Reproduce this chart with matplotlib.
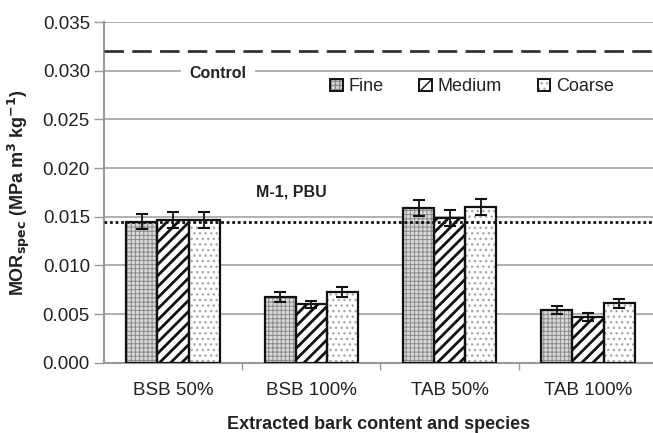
import matplotlib
matplotlib.use("Agg")
import matplotlib.pyplot as plt
from matplotlib.patches import Patch
import numpy as np

plt.rcParams['font.family'] = ['Liberation Sans', 'DejaVu Sans']

categories = ["BSB 50%", "BSB 100%", "TAB 50%", "TAB 100%"]
series_names = ["Fine", "Medium", "Coarse"]
fine = [0.0145, 0.0068, 0.0159, 0.0054]
medium = [0.0147, 0.0060, 0.0149, 0.0047]
coarse = [0.0147, 0.0073, 0.0160, 0.0061]
fine_err = [0.0008, 0.0005, 0.0008, 0.0004]
medium_err = [0.0008, 0.0004, 0.0008, 0.0004]
coarse_err = [0.0008, 0.0005, 0.0008, 0.0005]
control_value = 0.032
pbu_value = 0.0145
y_ticks = [0.000, 0.005, 0.010, 0.015, 0.020, 0.025, 0.030, 0.035]

fig = plt.figure(figsize=(6.53, 4.33), dpi=100)
ax = fig.add_axes([0.159, 0.162, 0.841, 0.787])

x = np.arange(len(categories))
width = 0.225
styles = [
    dict(facecolor="#d9d9d9", hatch="++++", hatchcolor="#8a8a8a", hlw=0.7),
    dict(facecolor="white", hatch="///", hatchcolor="#111111", hlw=2.0),
    dict(facecolor="white", hatch="...", hatchcolor="#a8a8a8", hlw=1.0),
]
values = [fine, medium, coarse]
errors = [fine_err, medium_err, coarse_err]
handles = []
for i, (vals, errs, st) in enumerate(zip(values, errors, styles)):
    pos = x + (i - 1) * width
    # hatched fill: the hatch takes the patch edge colour, so draw it separately
    with plt.rc_context({"hatch.linewidth": st["hlw"]}):
        ax.bar(pos, vals, width, facecolor=st["facecolor"], edgecolor=st["hatchcolor"],
               linewidth=0, hatch=st["hatch"], zorder=3)
        handle = Patch(facecolor=st["facecolor"], edgecolor=st["hatchcolor"],
                       hatch=st["hatch"], linewidth=0)
    # black outline on top
    ax.bar(pos, vals, width, fill=False, edgecolor="#111111", linewidth=1.6, zorder=3.5)
    ax.errorbar(pos, vals, yerr=errs, fmt="none", ecolor="#111111",
                elinewidth=1.3, capsize=4, capthick=1.5, zorder=5)
    outline = Patch(fill=False, edgecolor="#111111", linewidth=1.4)
    handles.append((handle, outline))

ax.axhline(control_value, color="#333333", linewidth=2, dashes=(7, 3), zorder=4)
ax.axhline(pbu_value, color="#111111", linewidth=2, linestyle=(0, (1, 1)), zorder=4)

ax.text(0.325, 0.0297, "Control", ha="center", va="center", fontsize=11.5,
        fontweight="bold", color="#222222", zorder=4,
        bbox=dict(facecolor="white", edgecolor="none", pad=6))
ax.text(0.853, 0.0175, "M-1, PBU", ha="center", va="center", fontsize=11.5,
        fontweight="bold", color="#222222", zorder=4)

ax.set_ylim(0, 0.035)
ax.set_xlim(-0.5, 3.47)
ax.set_yticks(y_ticks)
ax.set_yticklabels([f"{t:.3f}" for t in y_ticks])
ax.set_xticks(x)
ax.set_xticklabels(categories)
ax.set_xticks(np.arange(0.5, 3, 1), minor=True)
ax.tick_params(axis="x", which="major", length=0, labelsize=13.5, labelcolor="#222222", pad=14)
ax.tick_params(axis="x", which="minor", length=5, color="#999999", width=1)
ax.tick_params(axis="y", length=7, color="#999999", width=1, labelsize=13.5,
               labelcolor="#222222", pad=3)

ax.grid(axis="y", color="#9a9a9a", linewidth=1.1, zorder=0)
ax.set_axisbelow(True)
for side in ["top", "right"]:
    ax.spines[side].set_visible(False)
for side in ["left", "bottom"]:
    ax.spines[side].set_color("#999999")
    ax.spines[side].set_linewidth(1.5)

ax.set_ylabel(r"MOR$_{\mathbf{spec}}$ (MPa m$^{\mathbf{3}}$ kg$^{\mathbf{-1}}$)",
              fontsize=13, fontweight="bold", color="#222222", labelpad=8)
ax.set_xlabel("Extracted bark content and species", fontsize=13,
              fontweight="bold", color="#222222", labelpad=12)

leg = ax.legend(handles=handles, labels=series_names, ncol=3, frameon=False,
                loc="center", bbox_to_anchor=(0.67, 0.81), fontsize=13,
                handlelength=0.7, handleheight=0.7, handletextpad=0.3,
                columnspacing=2.0)
for t in leg.get_texts():
    t.set_color("#222222")

fig.savefig("out.png", dpi=100)
